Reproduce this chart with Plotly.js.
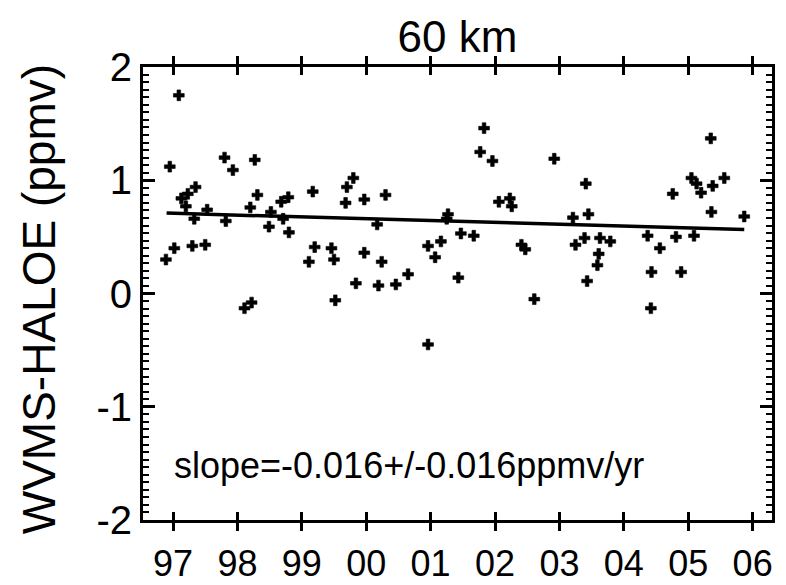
<!DOCTYPE html>
<html>
<head>
<meta charset="utf-8">
<script src="https://cdn.plot.ly/plotly-3.0.1.min.js"></script>
<style>
html,body{margin:0;padding:0;background:#fff;}
#chart{width:786px;height:585px;}
</style>
</head>
<body>
<div id="chart"></div>
<script>
// Monthly differences WVMS - HALOE at 60 km (decimal year, ppmv)
var years = [1996.89,1996.95,1997.02,1997.09,1997.13,1997.20,1997.23,1997.30,1997.33,1997.35,
  1997.50,1997.53,1997.80,1997.82,1997.93,1998.11,1998.20,1998.22,1998.27,1998.31,
  1998.49,1998.52,1998.68,1998.71,1998.79,1998.80,1999.11,1999.17,1999.20,1999.46,
  1999.50,1999.52,1999.68,1999.70,1999.80,1999.84,1999.97,1999.97,2000.17,2000.19,
  2000.24,2000.30,2000.46,2000.65,2000.96,2000.96,2001.07,2001.16,2001.25,2001.27,
  2001.43,2001.47,2001.67,2001.77,2001.83,2001.96,2002.06,2002.23,2002.26,2002.41,
  2002.47,2002.61,2002.92,2003.21,2003.25,2003.39,2003.41,2003.43,2003.45,2003.59,
  2003.61,2003.63,2003.79,2004.37,2004.42,2004.43,2004.56,2004.76,2004.81,2004.89,
  2005.05,2005.09,2005.13,2005.20,2005.35,2005.36,2005.38,2005.56,2005.87];
var diffs = [0.30,1.12,0.40,1.75,0.84,0.77,0.88,0.42,0.66,0.94,
  0.43,0.74,1.20,0.64,1.09,-0.13,0.76,-0.08,1.18,0.87,
  0.59,0.72,0.81,0.66,0.85,0.54,0.28,0.90,0.41,0.40,
  0.30,-0.06,0.80,0.94,1.02,0.09,0.83,0.36,0.61,0.07,
  0.28,0.87,0.08,0.17,0.42,-0.45,0.32,0.46,0.66,0.70,
  0.14,0.53,0.51,1.25,1.46,1.17,0.81,0.84,0.77,0.43,
  0.39,-0.05,1.19,0.67,0.43,0.49,0.97,0.11,0.70,0.25,
  0.35,0.49,0.46,0.51,-0.13,0.19,0.40,0.88,0.50,0.19,
  1.02,0.51,0.97,0.89,1.37,0.72,0.95,1.02,0.68];

// Linear fit line end points
var fitX = [1996.90, 2005.87];
var fitY = [0.71, 0.565];

var xTickVals = [1997,1998,1999,2000,2001,2002,2003,2004,2005,2006];
var xTickText = ["97","98","99","00","01","02","03","04","05","06"];
var yTickVals = [-2,-1,0,1,2];
var yTickText = ["-2","-1","0","1","2"];
var yRange = [-2, 2];

var titleText = "60 km";
var yTitleText = "WVMS-HALOE (ppmv)";
var slopeText = "slope=-0.016+/-0.016ppmv/yr";

var FONT = "Liberation Sans, Arial, Helvetica, sans-serif";

var traces = [
  {x: years, y: diffs, type: "scatter", mode: "markers",
   marker: {symbol: "cross", size: 9, color: "#000", line: {width: 0.6, color: "#000"}},
   hoverinfo: "x+y", showlegend: false},
  {x: fitX, y: fitY, type: "scatter", mode: "lines", yaxis: "y2",
   line: {color: "#000", width: 3.5}, showlegend: false}
];

var layout = {
  width: 786, height: 585,
  margin: {l: 143, r: 14, t: 67, b: 65},
  paper_bgcolor: "#fff", plot_bgcolor: "rgba(0,0,0,0)",
  font: {family: FONT, color: "#000"},
  title: {text: titleText, font: {size: 44, family: FONT, color: "#000"},
          xref: "paper", x: 0.5, xanchor: "center",
          yref: "container", y: 0.937, yanchor: "middle"},
  xaxis: {
    range: [1996.534, 2006.301], tickmode: "array",
    tickvals: xTickVals, ticktext: xTickText,
    ticks: "inside", ticklen: 8, tickwidth: 3, tickcolor: "#000",
    showline: true, linewidth: 3, linecolor: "#000", mirror: "allticks",
    showgrid: false, zeroline: false,
    tickfont: {size: 36, family: FONT, color: "#000"},
    ticklabelstandoff: 10
  },
  yaxis: {
    range: yRange, tickmode: "array",
    tickvals: yTickVals, ticktext: yTickText,
    ticks: "inside", ticklen: 12, tickwidth: 3, tickcolor: "#000",
    showline: true, linewidth: 3, linecolor: "#000", mirror: "allticks",
    showgrid: false, zeroline: false,
    tickfont: {size: 40, family: FONT, color: "#000"}
  },
  // minor ticks of the y axis (same scale, no labels)
  yaxis2: {
    overlaying: "y", side: "left", anchor: "x",
    range: yRange, tickmode: "linear", tick0: 0, dtick: 1/15,
    ticks: "inside", ticklen: 6, tickwidth: 2, tickcolor: "#000",
    showticklabels: false,
    showline: true, linewidth: 3, linecolor: "#000", mirror: "allticks",
    showgrid: false, zeroline: false
  },
  annotations: [
    {text: yTitleText, xref: "paper", yref: "paper", x: -0.164, y: 0.487,
     xanchor: "center", yanchor: "middle", textangle: -90, showarrow: false,
     font: {size: 46, family: FONT, color: "#000"}},
    {text: slopeText, xref: "paper", yref: "paper", x: 0.046, y: 0.121,
     xanchor: "left", yanchor: "middle", showarrow: false,
     font: {size: 36, family: FONT, color: "#000"}}
  ]
};

Plotly.newPlot("chart", traces, layout, {displayModeBar: false});
</script>
</body>
</html>
